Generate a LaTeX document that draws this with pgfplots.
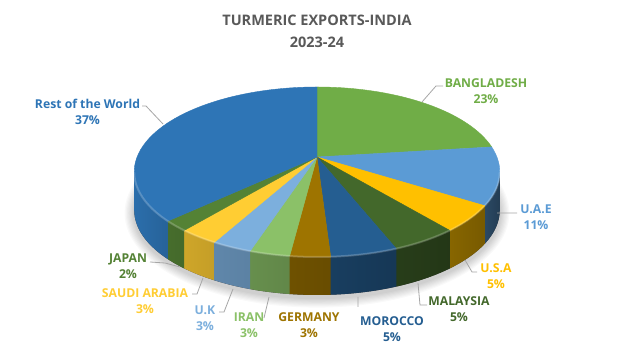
\documentclass[border=0pt]{standalone}
\usepackage{pgfplots}
\pgfplotsset{compat=1.18}
\usepackage{pgfplotstable}
\usepackage{fontspec}
\setmainfont{Open Sans}
\definecolor{c0}{HTML}{70AD47}
\definecolor{c1}{HTML}{5B9BD5}
\definecolor{c2}{HTML}{FFC000}
\definecolor{c3}{HTML}{43682B}
\definecolor{c4}{HTML}{255E91}
\definecolor{c5}{HTML}{9E7400}
\definecolor{c6}{HTML}{8BC168}
\definecolor{c7}{HTML}{7CAFDD}
\definecolor{c8}{HTML}{FFCD33}
\definecolor{c9}{HTML}{548235}
\definecolor{c10}{HTML}{2E75B6}
\definecolor{titlegray}{HTML}{595959}
\definecolor{leader}{HTML}{A6A6A6}
\pgfplotstableread{
name value
BANGLADESH 23
UAE 11
USA 5
MALAYSIA 5
MOROCCO 5
GERMANY 3
IRAN 3
UK 3
SAUDIARABIA 3
JAPAN 2
REST 37
}\pie
\newcommand\calcT[2]{%
  \pgfmathsetmacro\den{1+0.17647*sin(#1)}%
  \pgfmathsetmacro\XX{317+180*cos(#1)/\den}%
  \pgfmathsetmacro\YY{(157-54.65*sin(#1))/\den}%
  \pgfmathsetmacro\traw{atan2((172-\YY)/85,(\XX-317)/182.8)}%
  \pgfmathsetmacro\tval{\traw-360*round((\traw-(#1))/360)}%
  \expandafter\xdef\csname #2\endcsname{\tval}%
}
\def\cum{0}
\pgfplotsforeachungrouped \i in {0,...,10}{%
  \pgfplotstablegetelem{\i}{value}\of\pie
  \pgfmathsetmacro\thA{90-3.6*\cum}%
  \pgfmathsetmacro\cum{\cum+\pgfplotsretval}%
  \pgfmathsetmacro\thB{90-3.6*\cum}%
  \calcT{\thA}{ta\i}%
  \calcT{\thB}{tb\i}%
  \edef\tA{\csname ta\i\endcsname}%
  \edef\tB{\csname tb\i\endcsname}%
  \pgfmathsetmacro\xa{317+182.8*cos(\tA)}%
  \pgfmathsetmacro\ya{172+85*sin(\tA)}%
  \expandafter\xdef\csname xa\i\endcsname{\xa}%
  \expandafter\xdef\csname ya\i\endcsname{\ya}%
  \pgfmathsetmacro\sa{max(\tB,-180)}%
  \pgfmathsetmacro\sb{min(\tA,0)}%
  \pgfmathtruncatemacro\vis{\sa<\sb ? 1 : 0}%
  \expandafter\xdef\csname vis\i\endcsname{\vis}%
  \expandafter\xdef\csname sa\i\endcsname{\sa}%
  \expandafter\xdef\csname sb\i\endcsname{\sb}%
  \pgfmathsetmacro\sxa{317+182.8*cos(\sa)}%
  \pgfmathsetmacro\sya{172+85*sin(\sa)}%
  \expandafter\xdef\csname sxa\i\endcsname{\sxa}%
  \expandafter\xdef\csname sya\i\endcsname{\sya}%
  \pgfmathtruncatemacro\pa{100*(0.4+0.55*(-\sa/180))}%
  \pgfmathtruncatemacro\pb{100*(0.4+0.55*(-\sb/180))}%
  \edef\tmp{\noexpand\colorlet{sL\i}{c\i!\pa!black}}\tmp
  \edef\tmp{\noexpand\colorlet{sR\i}{c\i!\pb!black}}\tmp
}
\begin{document}
\begin{tikzpicture}
\begin{axis}[hide axis, scale only axis, width=633pt, height=344pt,
  xmin=0, xmax=633, ymin=0, ymax=344, clip=false]
\fill[white] (axis cs:0,0) rectangle (axis cs:633,344);
% soft shadow
\pgfplotsinvokeforeach{1,...,8}{
  \fill[black, opacity=0.022] (axis cs:317,131) ellipse [x radius={182.8pt+#1*1.2pt}, y radius={85pt+#1*1.2pt}];
}
% side base
\fill[black!75] (axis cs:134.2,172) arc[start angle=180, end angle=360, x radius=182.8pt, y radius=85pt] -- ++(0,-38pt) arc[start angle=360, end angle=180, x radius=182.8pt, y radius=85pt] -- cycle;
% side faces
\pgfplotsinvokeforeach{0,...,10}{
  \ifnum\csname vis#1\endcsname=1
  \shade[left color=sL#1, right color=sR#1] (axis cs:{\csname sxa#1\endcsname},{\csname sya#1\endcsname}) arc[start angle=\csname sa#1\endcsname, end angle=\csname sb#1\endcsname, x radius=182.8pt, y radius=85pt] -- ++(0,-38pt) arc[start angle=\csname sb#1\endcsname, end angle=\csname sa#1\endcsname, x radius=182.8pt, y radius=85pt] -- cycle;
  \fi
}
% top faces
\pgfplotsinvokeforeach{0,...,10}{
  \filldraw[fill=c#1, draw=c#1, line width=0.4pt, line join=round] (axis cs:317,187) -- (axis cs:{\csname xa#1\endcsname},{\csname ya#1\endcsname}) arc[start angle=\csname ta#1\endcsname, end angle=\csname tb#1\endcsname, x radius=182.8pt, y radius=85pt] -- cycle;
}
% bevel highlight
\draw[white, opacity=0.2, line width=2pt] (axis cs:134.2,172) arc[start angle=180, end angle=360, x radius=182.8pt, y radius=85pt];
% leader lines
\draw[leader, line width=0.8pt]
  (axis cs:142,238) -- (axis cs:146,238) -- (axis cs:163,220)
  (axis cs:422,242) -- (axis cs:436,258) -- (axis cs:443,258)
  (axis cs:497,131) -- (axis cs:517,131)
  (axis cs:465,84) -- (axis cs:472,72) -- (axis cs:477,72)
  (axis cs:418,61) -- (axis cs:420,39) -- (axis cs:427,39)
  (axis cs:358,47) -- (axis cs:358,37)
  (axis cs:269,47) -- (axis cs:264,26)
  (axis cs:233,55) -- (axis cs:224,32) -- (axis cs:219,32)
  (axis cs:203,66) -- (axis cs:197,50) -- (axis cs:192,50)
  (axis cs:150,82) -- (axis cs:165,81) -- (axis cs:180,77);
% title
\node[font=\fontsize{14.5}{22}\selectfont\bfseries, text=titlegray, align=center, inner sep=0pt] at (axis cs:317,313) {TURMERIC EXPORTS-INDIA\\2023-24};
% labels
\tikzset{lab/.style={font=\fontsize{12.2}{16}\selectfont\bfseries, align=center, inner sep=0pt}}
\node[lab, text=c10] at (axis cs:87.5,232.5) {Rest of the World\\37\%};
\node[lab, text=c0] at (axis cs:486,253) {BANGLADESH\\23\%};
\node[lab, text=c1] at (axis cs:536,127) {U.A.E\\11\%};
\node[lab, text=c2] at (axis cs:496,68) {U.S.A\\5\%};
\node[lab, text=c3] at (axis cs:459,34.5) {MALAYSIA\\5\%};
\node[lab, text=c4] at (axis cs:392,14.5) {MOROCCO\\5\%};
\node[lab, text=c5] at (axis cs:309,19) {GERMANY\\3\%};
\node[lab, text=c6] at (axis cs:249,19) {IRAN\\3\%};
\node[lab, text=c7] at (axis cs:205,26) {U.K\\3\%};
\node[lab, text=c8] at (axis cs:145,43) {SAUDI ARABIA\\3\%};
\node[lab, text=c9] at (axis cs:128,78) {JAPAN\\2\%};
\end{axis}
\end{tikzpicture}
\end{document}
